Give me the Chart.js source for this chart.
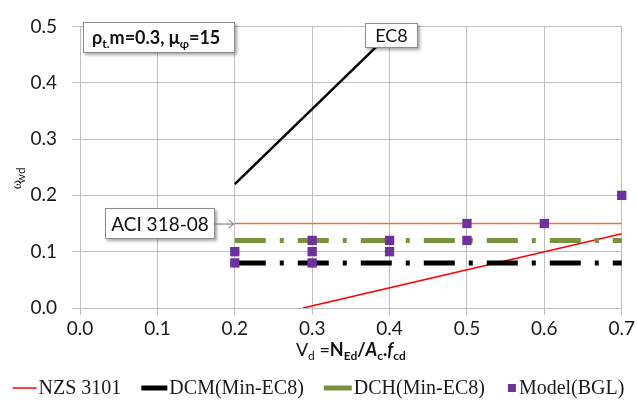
<!DOCTYPE html>
<html>
<head>
<meta charset="utf-8">
<script src="https://cdn.jsdelivr.net/npm/chart.js@4.4.0/dist/chart.umd.min.js"></script>
<style>
  html, body { margin: 0; padding: 0; background: #ffffff; }
  #wrap { width: 637px; height: 410px; position: relative; }
</style>
</head>
<body>
<div id="wrap"><canvas id="c" width="637" height="410"></canvas></div>
<script>
// ---- data ----
const xTicks = [0.0, 0.1, 0.2, 0.3, 0.4, 0.5, 0.6, 0.7];
const yTicks = [0.0, 0.1, 0.2, 0.3, 0.4, 0.5];

const nzsX = [0.288, 0.7];
const nzsY = [0.0, 0.132];

const dcmX = [0.2, 0.7];
const dcmY = [0.08, 0.08];

const dchX = [0.2, 0.7];
const dchY = [0.12, 0.12];

const modelX = [0.2, 0.2, 0.3, 0.3, 0.3, 0.4, 0.4, 0.5, 0.5, 0.6, 0.7];
const modelY = [0.10, 0.08, 0.12, 0.10, 0.08, 0.12, 0.10, 0.15, 0.12, 0.15, 0.20];

const ec8X = [0.2, 0.41];
const ec8Y = [0.22, 0.5];

const aciX = [0.2, 0.7];
const aciY = [0.15, 0.15];

const legendNames = ['NZS 3101', 'DCM(Min-EC8)', 'DCH(Min-EC8)', 'Model(BGL)'];

function pts(xs, ys) { return xs.map((x, i) => ({ x: x, y: ys[i] })); }

const SANS = 'Lato, "Open Sans", "Liberation Sans", sans-serif';
const SERIF = '"Liberation Serif", "DejaVu Serif", serif';

function richText(ctx, segs, x, y, align) {
  let total = 0;
  segs.forEach(s => { ctx.font = s.font; total += ctx.measureText(s.t).width; });
  let cx = align === 'center' ? x - total / 2 : x;
  segs.forEach(s => {
    ctx.font = s.font;
    ctx.fillText(s.t, cx, y + (s.dy || 0));
    cx += ctx.measureText(s.t).width;
  });
  return total;
}

function box(ctx, x, y, w, h) {
  ctx.save();
  ctx.shadowColor = 'rgba(0,0,0,0.35)';
  ctx.shadowBlur = 3;
  ctx.shadowOffsetX = 2;
  ctx.shadowOffsetY = 2;
  ctx.fillStyle = '#ffffff';
  ctx.fillRect(x, y, w, h);
  ctx.restore();
  ctx.strokeStyle = '#8c8c8c';
  ctx.lineWidth = 1;
  ctx.strokeRect(x + 0.5, y + 0.5, w - 1, h - 1);
}

const decor = {
  id: 'decor',
  afterDraw(chart) {
    const ctx = chart.ctx;
    const xs = chart.scales.x, ys = chart.scales.y;
    const ca = chart.chartArea;
    ctx.save();
    ctx.textBaseline = 'alphabetic';
    ctx.fillStyle = '#1a1a1a';

    // parameter box
    box(ctx, 83, 22, 152, 31);
    ctx.fillStyle = '#111';
    richText(ctx, [
      { t: 'ρ', font: 'bold 18px ' + SANS },
      { t: 't.', font: 'bold 12px ' + SANS, dy: 4 },
      { t: 'm=0.3, μ', font: 'bold 18px ' + SANS },
      { t: 'φ', font: 'bold 12px ' + SANS, dy: 4 },
      { t: '=15', font: 'bold 18px ' + SANS }
    ], 92, 44, 'left');

    // EC8 label
    box(ctx, 365, 23, 53, 25);
    ctx.fillStyle = '#111';
    ctx.font = '18px ' + SANS;
    ctx.textAlign = 'center';
    ctx.fillText('EC8', 391.5, 42);

    // ACI label with arrow to the ACI line
    const ax = xs.getPixelForValue(aciX[0]);
    const ay = ys.getPixelForValue(aciY[0]);
    box(ctx, 105, 208, 110, 31);
    ctx.fillStyle = '#111';
    ctx.font = '19px ' + SANS;
    ctx.fillText('ACI 318-08', 160, 231);
    ctx.strokeStyle = '#6b6b6b';
    ctx.lineWidth = 1;
    ctx.beginPath();
    ctx.moveTo(215, ay + 0.5);
    ctx.lineTo(ax - 1, ay + 0.5);
    ctx.moveTo(ax - 6, ay - 3.5);
    ctx.lineTo(ax - 1, ay + 0.5);
    ctx.lineTo(ax - 6, ay + 4.5);
    ctx.stroke();

    // y-axis title (rotated)
    ctx.save();
    ctx.translate(21, 172);
    ctx.rotate(-Math.PI / 2);
    ctx.fillStyle = '#222';
    richText(ctx, [
      { t: 'ω', font: '14px ' + SERIF },
      { t: 'wd', font: '12px ' + SANS, dy: 4 }
    ], 0, 0, 'center');
    ctx.restore();

    // x-axis title
    ctx.fillStyle = '#111';
    ctx.textAlign = 'left';
    const mid = (ca.left + ca.right) / 2;
    richText(ctx, [
      { t: 'V', font: '18px ' + SANS },
      { t: 'd', font: '12px ' + SANS, dy: 4 },
      { t: ' =', font: '18px ' + SANS },
      { t: 'N', font: 'bold 18px ' + SANS },
      { t: 'Ed', font: 'bold 12px ' + SANS, dy: 4 },
      { t: '/', font: 'bold 18px ' + SANS },
      { t: 'A', font: 'italic bold 18px ' + SANS },
      { t: 'c', font: 'bold 12px ' + SANS, dy: 4 },
      { t: '.', font: 'bold 18px ' + SANS },
      { t: 'f', font: 'italic bold 18px ' + SANS },
      { t: 'cd', font: 'bold 12px ' + SANS, dy: 4 }
    ], mid, 356, 'center');

    // legend
    const lf = '20px ' + SERIF;
    ctx.font = lf;
    const markerW = [24, 26, 28, 12];
    const gapMT = 2, gapItem = 20;
    let total = 0;
    legendNames.forEach((n, i) => {
      total += markerW[i] + gapMT + ctx.measureText(n).width;
      if (i < legendNames.length - 1) total += gapItem;
    });
    let lx = 637 / 2 - total / 2;
    const ly = 388;
    const ds = chart.data.datasets;
    legendNames.forEach((n, i) => {
      const d = ds[i];
      if (i < 3) {
        ctx.strokeStyle = d.borderColor;
        ctx.lineWidth = i === 0 ? 1.5 : 5;
        ctx.lineCap = 'butt';
        ctx.setLineDash([]);
        ctx.beginPath();
        ctx.moveTo(lx, ly);
        ctx.lineTo(lx + markerW[i], ly);
        ctx.stroke();
      } else {
        ctx.fillStyle = d.backgroundColor;
        ctx.fillRect(lx + 3, ly - 4, 8, 8);
      }
      lx += markerW[i] + gapMT;
      ctx.fillStyle = '#1a1a1a';
      ctx.font = lf;
      ctx.textBaseline = 'middle';
      ctx.fillText(n, lx, ly + 1);
      lx += ctx.measureText(n).width + gapItem;
    });
    ctx.restore();
  }
};

const dashPat = [31, 14, 4, 14];

new Chart(document.getElementById('c'), {
  type: 'scatter',
  data: {
    datasets: [
      { label: legendNames[0], data: pts(nzsX, nzsY), showLine: true, borderColor: '#ff0000', borderWidth: 1.6, pointRadius: 0, order: 4 },
      { label: legendNames[1], data: pts(dcmX, dcmY), showLine: true, borderColor: '#000000', borderWidth: 5, borderDash: dashPat, pointRadius: 0, order: 3, clip: 4 },
      { label: legendNames[2], data: pts(dchX, dchY), showLine: true, borderColor: '#77933c', borderWidth: 5, borderDash: dashPat, pointRadius: 0, order: 2, clip: 4 },
      { label: legendNames[3], data: pts(modelX, modelY), showLine: false, backgroundColor: '#7030a0', borderColor: '#7030a0', borderWidth: 0, pointStyle: 'rect', pointRadius: 6.6, order: 0, clip: false },
      { label: 'EC8', data: pts(ec8X, ec8Y), showLine: true, borderColor: '#000000', borderWidth: 2.5, pointRadius: 0, order: 1 },
      { label: 'ACI 318-08', data: pts(aciX, aciY), showLine: true, borderColor: '#e3782e', borderWidth: 1.6, pointRadius: 0, order: 1 }
    ]
  },
  options: {
    responsive: false,
    animation: false,
    devicePixelRatio: 1,
    layout: { padding: { left: 0, right: 15, top: 15, bottom: 0 } },
    plugins: { legend: { display: false }, tooltip: { enabled: false } },
    scales: {
      x: {
        type: 'linear', min: 0, max: 0.7,
        afterFit(s) { s.height = 102; },
        afterBuildTicks(s) { s.ticks = xTicks.map(v => ({ value: v })); },
        ticks: { padding: 2, color: '#1a1a1a', font: { family: SANS, size: 19 }, callback: v => v.toFixed(1) },
        grid: { color: '#bfbfbf', tickLength: 7, lineWidth: 1 },
        border: { color: '#bfbfbf' }
      },
      y: {
        type: 'linear', min: 0, max: 0.5,
        afterFit(s) { s.width = 80; },
        afterBuildTicks(s) { s.ticks = yTicks.map(v => ({ value: v })); },
        ticks: { padding: 15, color: '#1a1a1a', font: { family: SANS, size: 19 }, callback: v => v.toFixed(1) },
        grid: { color: '#bfbfbf', tickLength: 8, lineWidth: 1 },
        border: { color: '#bfbfbf' }
      }
    }
  },
  plugins: [decor]
});
</script>
</body>
</html>
